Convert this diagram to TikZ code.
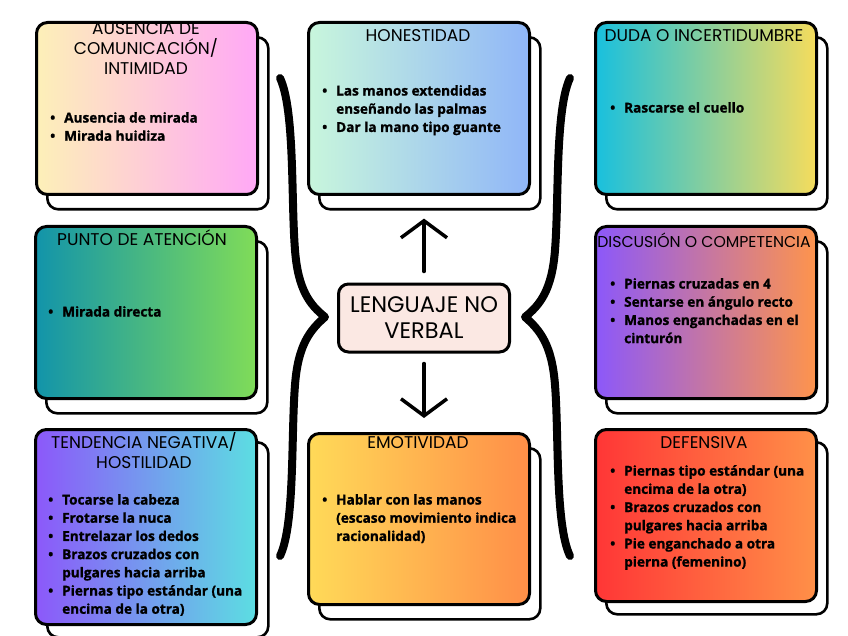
\documentclass[tikz,border=0pt]{standalone}
\usepackage{fontspec}
\setmainfont{Open Sans}[BoldFeatures={FakeBold=1.2}]
\newfontfamily\ttlfont{Poppins}
\usetikzlibrary{positioning,arrows.meta}

\definecolor{ausL}{HTML}{FDF0B8}\definecolor{ausR}{HTML}{FFA8F6}
\definecolor{honL}{HTML}{C8F6DC}\definecolor{honR}{HTML}{90B6F8}
\definecolor{dudL}{HTML}{18C0DE}\definecolor{dudR}{HTML}{F6DC5C}
\definecolor{punL}{HTML}{1294AA}\definecolor{punR}{HTML}{80DC58}
\definecolor{disL}{HTML}{8C58FA}\definecolor{disR}{HTML}{FE944C}
\definecolor{tenL}{HTML}{8C58FA}\definecolor{tenR}{HTML}{5CDEE2}
\definecolor{emoL}{HTML}{FFDA58}\definecolor{emoR}{HTML}{FF8E48}
\definecolor{defL}{HTML}{FF3636}\definecolor{defR}{HTML}{FF9048}
\definecolor{lvfill}{HTML}{FBE8E3}

\newcommand{\itm}{\makebox[14pt][l]{\textbullet}}
\newcommand{\cnt}{\hspace*{14pt}}

\tikzset{
  card/.style={draw=black, line width=3pt, rounded corners=11pt, minimum width=221pt,
    minimum height=172pt, inner sep=0pt, anchor=north west},
  back/.style={card, fill=white, line width=2.6pt},
  ttl/.style={font=\ttlfont\fontsize{17}{20}\selectfont, align=center, inner sep=0pt},
  items/.style={font=\bfseries\fontsize{13.6}{18.2}\selectfont, align=left, anchor=north west, inner sep=0pt},
  brace/.style={line width=8pt, line cap=round, line join=round},
  arr/.style={line width=3.5pt, line cap=round, -{Straight Barb[length=17pt,width=46pt]}},
}

\begin{document}
\begin{tikzpicture}[x=1pt,y=-1pt]
\useasboundingbox (0,0) rectangle (848,636);
\fill[white] (0,0) rectangle (848,636);

% shadows
\node[back] (s1) at (46,36){};
\node[back] (s2) at (318,36){};
\node[back] (s3) at (605,36){};
\node[back] (s4) at (45,240){};
\node[back] (s5) at (605,240){};
\node[back,minimum height=195pt] (s6) at (46,441){};
\node[back,minimum height=171pt] (s7) at (318,447){};
\node[back] (s8) at (605,441){};

% cards
\node[card,left color=ausL,right color=ausR] (b1) at (35,21){};
\node[card,left color=honL,right color=honR] (b2) at (307,21){};
\node[card,left color=dudL,right color=dudR] (b3) at (594,21){};
\node[card,left color=punL,right color=punR] (b4) at (34,225){};
\node[card,left color=disL,right color=disR] (b5) at (594,225){};
\node[card,left color=tenL,right color=tenR,minimum height=195pt] (b6) at (34,428){};
\node[card,left color=emoL,right color=emoR,minimum height=171pt] (b7) at (307,432){};
\node[card,left color=defL,right color=defR] (b8) at (594,428){};

%%%%%%%% titles
\node[ttl] (t1) at (146,49) {AUSENCIA DE\\COMUNICACIÓN/\\INTIMIDAD};
\node[ttl] (t2) at (418,36) {HONESTIDAD};
\node[ttl] (t3) at (704,36) {DUDA O INCERTIDUMBRE};
\node[ttl] (t4) at (142,238) {PUNTO DE ATENCIÓN};
\node[ttl,font=\ttlfont\fontsize{15.7}{20}\selectfont] (t5) at (704,240) {DISCUSIÓN O COMPETENCIA};
\node[ttl] (t6) at (144,451) {TENDENCIA NEGATIVA/\\HOSTILIDAD};
\node[ttl] (t7) at (418,443) {EMOTIVIDAD};
\node[ttl] (t8) at (704,443) {DEFENSIVA};

%%%%%%%% lists
\node[items] (l1) at (50,112) {\itm Ausencia de mirada\\ \itm Mirada huidiza};
\node[items] (l2) at (322,85) {\itm Las manos extendidas\\ \cnt enseñando las palmas\\ \itm Dar la mano tipo guante};
\node[items] (l3) at (610,102) {\itm Rascarse el cuello};
\node[items] (l4) at (48,306) {\itm Mirada directa};
\node[items] (l5) at (610,278) {\itm Piernas cruzadas en 4\\ \itm Sentarse en ángulo recto\\ \itm Manos enganchadas en el\\ \cnt cinturón};
\node[items] (l6) at (48,494) {\itm Tocarse la cabeza\\ \itm Frotarse la nuca\\ \itm Entrelazar los dedos\\ \itm Brazos cruzados con\\ \cnt pulgares hacia arriba\\ \itm Piernas tipo estándar (una\\ \cnt encima de la otra)};
\node[items] (l7) at (322,494) {\itm Hablar con las manos\\ \cnt (escaso movimiento indica\\ \cnt racionalidad)};
\node[items] (l8) at (610,465) {\itm Piernas tipo estándar (una\\ \cnt encima de la otra)\\ \itm Brazos cruzados con\\ \cnt pulgares hacia arriba\\ \itm Pie enganchado a otra\\ \cnt pierna (femenino)};

%%%%%%%% centre
\node[draw=black,line width=3pt,rounded corners=10pt,fill=lvfill,minimum width=171pt,minimum height=68pt,
  align=center,font=\ttlfont\fontsize{22.5}{26}\selectfont] (lv) at (424,318) {LENGUAJE NO\\VERBAL};

\draw[arr,shorten <=11pt,shorten >=8pt] (lv.north) -- (lv.north |- s2.south);
\draw[arr,shorten <=10pt,shorten >=14pt] (lv.south) -- (lv.south |- b7.north);

%%%%%%%% braces
\draw[brace] (280,78) .. controls (295,110) and (291,200) .. (295,250)
  .. controls (298,290) and (310,305) .. (325,317)
  .. controls (310,330) and (298,345) .. (295,385)
  .. controls (291,435) and (295,525) .. (280,556);
\draw[brace] (570,78) .. controls (555,110) and (559,200) .. (555,250)
  .. controls (552,290) and (540,305) .. (525,317)
  .. controls (540,330) and (552,345) .. (555,385)
  .. controls (559,435) and (555,525) .. (570,556);

\end{tikzpicture}
\end{document}
